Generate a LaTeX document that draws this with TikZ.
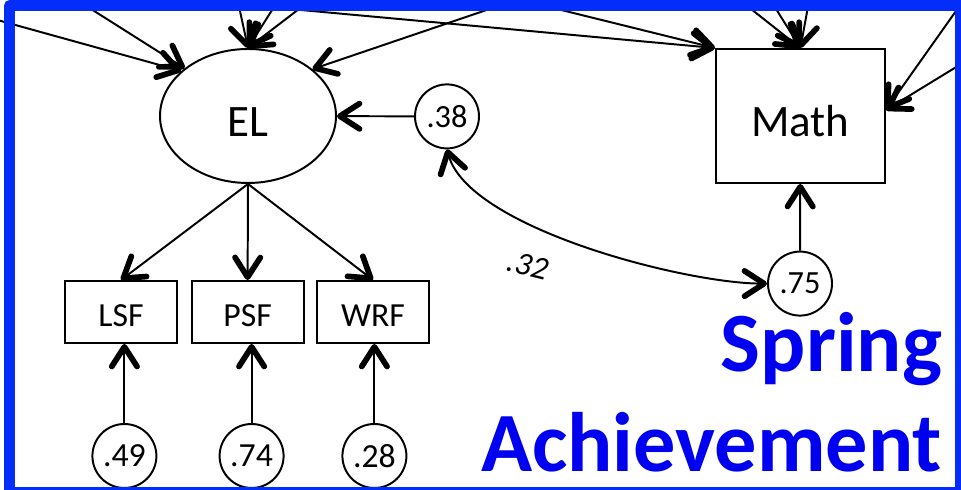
\documentclass[tikz,border=0pt]{standalone}
\usepackage{fontspec}
\setmainfont{Carlito}
\usetikzlibrary{arrows.meta, shapes.geometric, positioning}

\definecolor{frameblue}{RGB}{5,45,250}
\definecolor{titleblue}{RGB}{0,0,240}

\begin{document}
\begin{tikzpicture}[line width=1.4pt,
    tip/.tip={Straight Barb[length=14pt,width=18pt,line width=0pt 2.9,round]},
    arr/.style={-tip},
    latent/.style={draw, ellipse, minimum width=4.4cm, minimum height=3.35cm, inner sep=0pt,
        text height=1.05cm, font=\fontsize{32}{38}\selectfont},
    outcome/.style={draw, rectangle, minimum width=4.225cm, minimum height=3.35cm, inner sep=0pt,
        text height=1.05cm, font=\fontsize{32}{38}\selectfont},
    measure/.style={draw, rectangle, minimum width=2.8cm, minimum height=1.55cm, inner sep=0pt,
        text height=0.75cm, font=\fontsize{24}{29}\selectfont},
    resid/.style={draw, circle, minimum size=1.6cm, inner sep=0pt, font=\fontsize{24}{29}\selectfont},
    title/.style={text=titleblue, font=\fontsize{60}{72}\selectfont\bfseries, inner sep=0pt, anchor=base east}]

    \useasboundingbox (0,0) rectangle (24.025,12.25);
    \fill[white] (0,0) rectangle (24.025,12.25);

    % latent factor and its indicators
    \node[latent] (EL) at (6.2,9.35) {EL};
    \node[measure] (lsf) at (3.025,4.45) {LSF};
    \node[measure] (psf) at (6.19,4.45) {PSF};
    \node[measure] (wrf) at (9.325,4.45) {WRF};

    \node[resid] (e49) at (3.11,0.85) {.49};
    \node[resid] (e74) at (6.29,0.85) {.74};
    \node[resid] (e28) at (9.36,0.85) {.28};

    \node[resid, font=\fontsize{23}{27}\selectfont] (e38) at (11.175,9.34) {.38};

    % outcome
    \node[outcome] (Math) at (20.01,9.35) {Math};
    \node[resid, font=\fontsize{23}{27}\selectfont] (e75) at (20.0,5.16) {.75};

    \draw[arr] (EL.south) -- (lsf.north);
    \draw[arr] (EL.south) -- (psf.north);
    \draw[arr] (EL.south) -- (wrf.north);

    \draw[arr] (e49) -- (e49 |- lsf.south);
    \draw[arr] (e74) -- (e74 |- psf.south);
    \draw[arr] (e28) -- (e28 |- wrf.south);

    \draw[arr] (e38) -- (EL);
    \draw[arr] (e75) -- (Math);

    % residual covariance
    \draw[tip-tip] (e38.south) to[out=-75, in=180, looseness=0.6] (e75.west);
    \node[rotate=-14, font=\fontsize{23}{27}\selectfont\itshape] (cov) at (13.2,5.62) {.32};

    % predictors coming in from above
    \coordinate (a1) at (-0.5,11.87);
    \coordinate (a2) at (1.92,12.25);
    \coordinate (a3) at (5.94,12.25);
    \coordinate (a4) at (6.96,12.25);
    \coordinate (a5) at (7.77,12.25);
    \coordinate (a6) at (12.9,12.25);
    \coordinate (m1) at (4.8,12.25);
    \coordinate (m2) at (13.02,12.25);
    \coordinate (m3) at (18.49,12.25);
    \coordinate (m4) at (19.26,12.25);
    \coordinate (m5) at (20.23,12.25);
    \coordinate (m6) at (24.25,12.47);
    \coordinate (m7) at (24.25,10.785);

    \draw[arr] (a1) -- (EL.146);
    \draw[arr] (a2) -- (EL.143);
    \foreach \s in {a3,a4,a5}
        \draw[arr] (\s) -- (EL.north);
    \draw[arr] (a6) -- (EL.36);

    \draw[arr] (m1) -- (Math.north west);
    \draw[arr] (m2) -- (Math.north west);
    \foreach \s in {m3,m4,m5}
        \draw[arr] (\s) -- (Math.north);
    \draw[arr] (m6) -- (Math.4);
    \draw[arr] (m7) -- (Math.4);

    % frame
    \draw[frameblue, line width=0.275cm, line join=round] (0.2375,12.1125) rectangle (24.0125,-0.0625);

    \node[title] (spring) at (23.575,2.95) {Spring};
    \node[title] (achieve) at (23.575,0.45) {Achievement};
\end{tikzpicture}
\end{document}
